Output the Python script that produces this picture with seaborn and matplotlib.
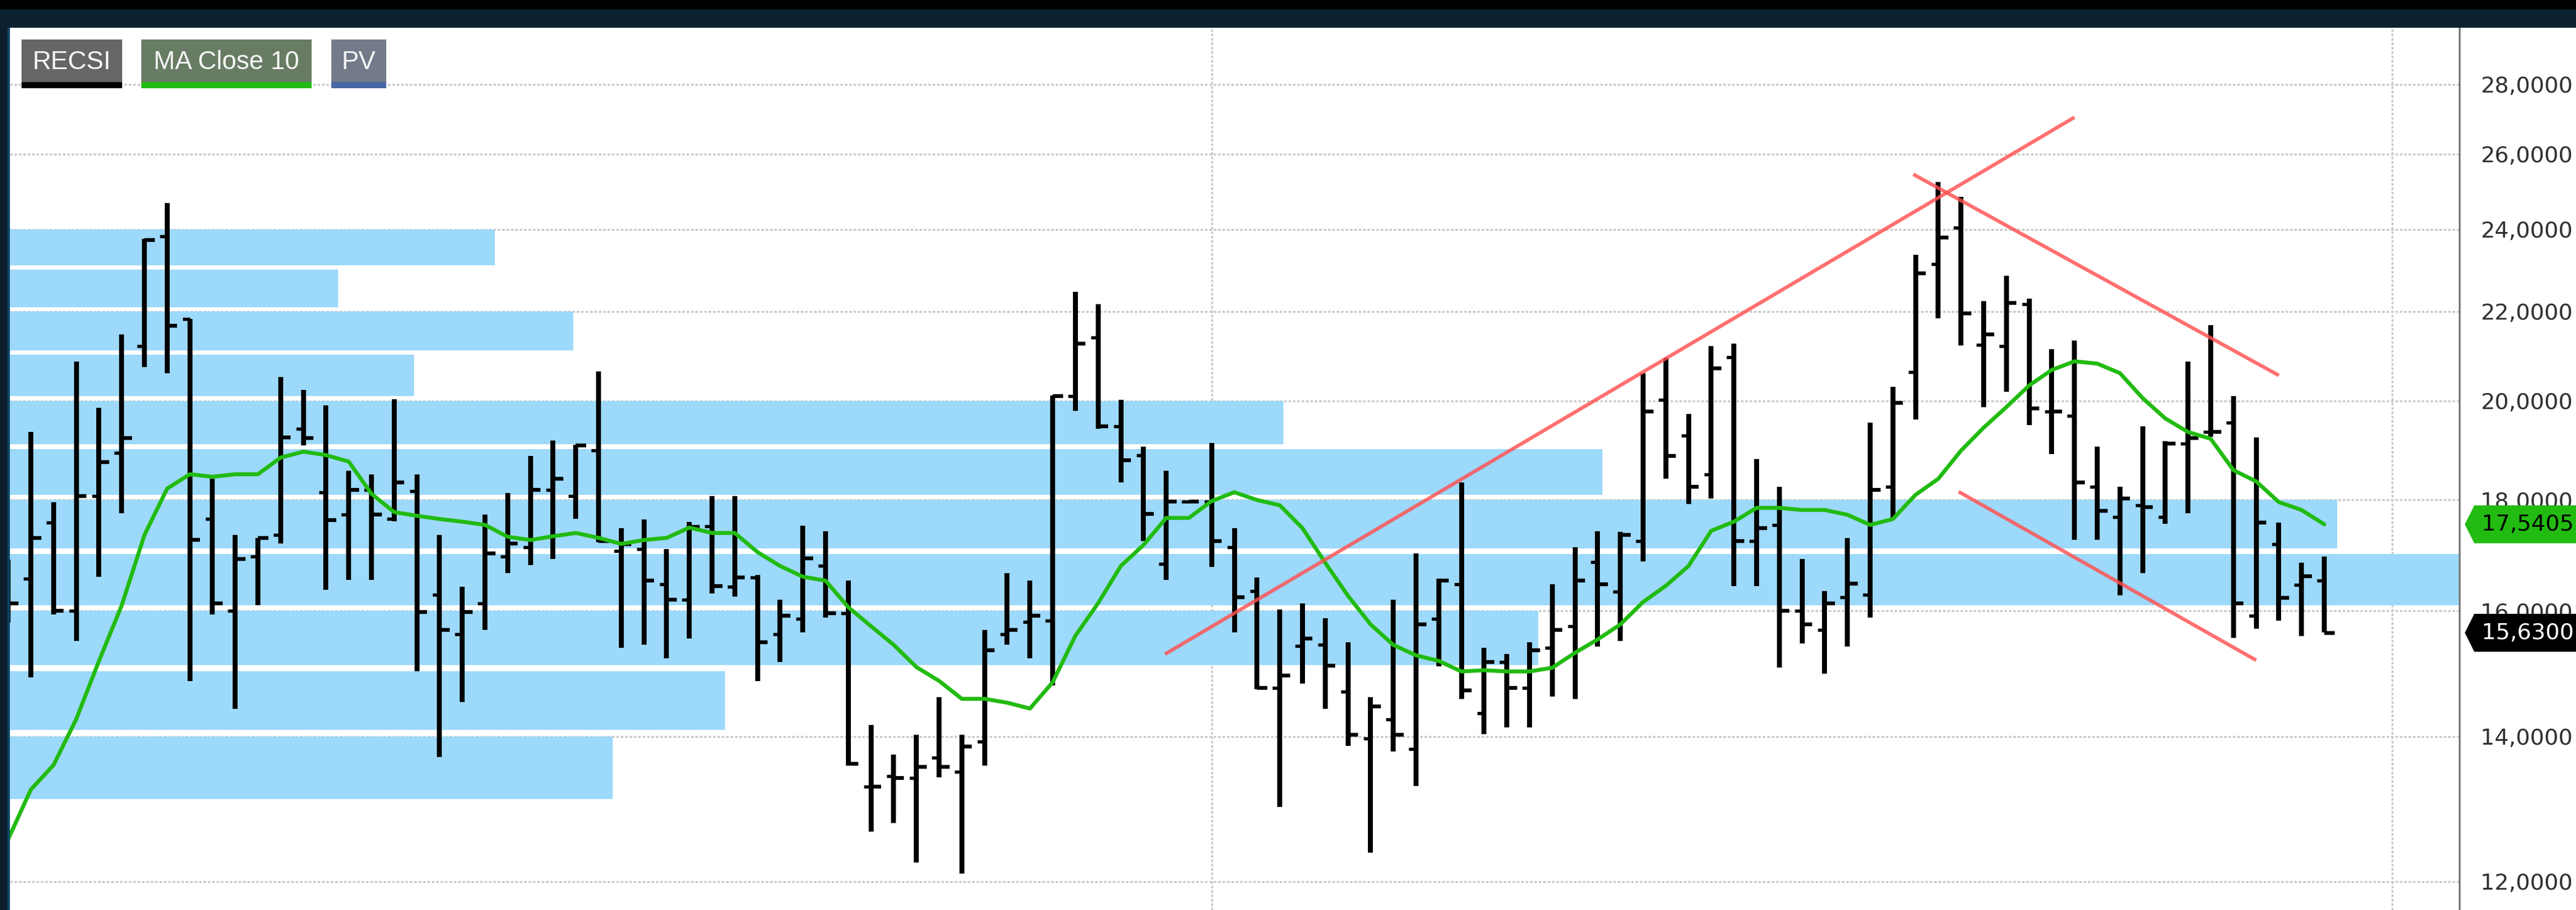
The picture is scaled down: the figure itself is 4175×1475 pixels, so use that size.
import numpy as np
import matplotlib
matplotlib.use("Agg")
import matplotlib.pyplot as plt
from matplotlib.patches import Rectangle
from matplotlib.path import Path
from matplotlib.ticker import FixedLocator, FuncFormatter, NullLocator, NullFormatter
import seaborn as sns

# weekly OHLC bars (bar 0 sits mostly behind the left frame)
opens = [16.40, 16.56, 17.57, 16.00, 18.08, 18.92, 21.20, 23.82, 21.82, 17.64,
         16.00, 16.95, 17.34, 19.42, 18.15, 17.72, 18.19, 17.64, 18.17, 16.28,
         15.61, 16.13, 16.95, 17.12, 18.20, 18.08, 18.97, 17.05, 17.08, 16.46,
         16.19, 17.51, 16.41, 16.58, 15.61, 15.86, 16.79, 15.96, 13.27, 13.42,
         13.39, 13.69, 13.48, 13.92, 15.61, 15.81, 15.83, 20.10, 21.39, 19.47,
         18.88, 16.82, 17.97, 17.97, 17.12, 16.34, 14.74, 15.41, 15.43, 14.68,
         13.97, 14.26, 13.81, 15.86, 16.46, 14.35, 15.15, 14.74, 15.38, 15.74,
         16.85, 16.33, 17.23, 20.03, 19.28, 18.50, 20.95, 17.23, 17.53, 16.00,
         15.68, 16.23, 16.28, 18.26, 20.63, 23.13, 24.04, 21.23, 21.20, 22.17,
         19.77, 19.68, 18.25, 17.68, 17.90, 17.68, 19.11, 19.35, 19.54, 15.92,
         17.18, 16.45, 16.52]
highs = [16.90, 19.35, 17.96, 20.86, 19.85, 21.47, 23.77, 24.68, 21.82, 18.41,
         17.35, 17.29, 20.51, 20.24, 19.91, 18.57, 18.50, 20.04, 18.50, 17.35,
         16.41, 17.72, 18.14, 18.87, 19.18, 19.09, 20.64, 17.47, 17.63, 17.08,
         17.59, 18.08, 18.08, 16.62, 16.19, 17.52, 17.41, 16.52, 14.17, 13.73,
         14.02, 14.60, 14.02, 15.68, 16.65, 16.52, 20.12, 22.46, 22.17, 20.03,
         19.05, 18.57, 17.97, 19.13, 17.47, 16.58, 16.02, 16.13, 15.87, 15.47,
         14.60, 16.19, 17.01, 16.56, 18.34, 15.38, 15.28, 15.47, 16.46, 17.12,
         17.41, 17.40, 20.60, 20.94, 19.73, 21.20, 21.26, 18.80, 18.26, 16.91,
         16.34, 17.29, 19.54, 20.30, 23.36, 25.25, 24.84, 22.24, 22.84, 22.30,
         21.13, 21.32, 19.05, 18.26, 19.47, 19.16, 20.86, 21.68, 20.10, 19.24,
         17.57, 16.84, 16.95]
lows = [15.80, 14.91, 15.94, 15.49, 16.59, 17.75, 20.73, 20.60, 14.85, 15.94,
        14.42, 16.09, 17.19, 19.07, 16.36, 16.53, 16.53, 17.60, 15.00, 13.70,
        14.52, 15.68, 16.65, 16.80, 16.91, 17.64, 17.21, 15.38, 15.43, 15.21,
        15.53, 16.30, 16.24, 14.85, 15.15, 15.64, 15.89, 13.57, 12.65, 12.77,
        12.24, 13.40, 12.10, 13.57, 15.43, 15.21, 14.78, 19.79, 19.42, 18.34,
        17.23, 16.53, 17.97, 16.76, 15.64, 14.72, 12.99, 14.81, 14.42, 13.86,
        12.37, 13.78, 13.28, 15.08, 14.57, 14.03, 14.13, 14.13, 14.61, 14.57,
        15.40, 15.49, 16.86, 18.41, 17.92, 18.03, 16.43, 16.43, 15.06, 15.45,
        14.96, 15.40, 15.89, 17.64, 19.61, 21.84, 21.21, 19.87, 20.19, 19.49,
        18.90, 17.25, 17.25, 16.26, 16.65, 17.55, 17.75, 19.25, 15.55, 15.70,
        15.83, 15.58, 15.64]
closes = [16.13, 17.29, 16.00, 18.08, 18.74, 19.23, 23.73, 21.67, 17.25, 16.13,
          16.91, 17.29, 19.24, 19.23, 17.62, 18.19, 17.72, 18.34, 15.98, 15.68,
          15.98, 17.01, 17.19, 18.20, 18.41, 19.07, 17.23, 17.18, 16.52, 16.19,
          17.49, 16.43, 16.58, 15.47, 15.92, 16.92, 15.96, 13.60, 13.27, 13.39,
          13.55, 13.55, 13.85, 15.34, 15.68, 15.92, 20.10, 21.26, 19.47, 18.78,
          17.74, 17.97, 17.97, 17.23, 16.23, 14.74, 14.94, 15.53, 15.09, 14.02,
          14.45, 14.02, 15.77, 16.52, 14.70, 15.15, 14.74, 15.34, 15.68, 16.52,
          16.46, 17.35, 19.77, 18.86, 18.25, 20.70, 17.23, 17.47, 16.00, 15.77,
          16.13, 16.47, 18.20, 19.96, 22.90, 23.79, 21.95, 21.47, 22.19, 19.84,
          19.77, 18.34, 17.79, 18.03, 17.87, 19.11, 19.23, 19.35, 16.13, 17.57,
          16.22, 16.60, 15.63]
ma_close_10 = [12.55, 13.23, 13.58, 14.26, 15.17, 16.09, 17.34, 18.22, 18.50, 18.45,
               18.50, 18.50, 18.83, 18.95, 18.88, 18.75, 18.12, 17.77, 17.70, 17.64,
               17.59, 17.53, 17.31, 17.25, 17.32, 17.38, 17.29, 17.18, 17.25, 17.29,
               17.48, 17.38, 17.38, 17.03, 16.78, 16.59, 16.52, 16.06, 15.74, 15.43,
               15.07, 14.85, 14.57, 14.57, 14.51, 14.42, 14.83, 15.58, 16.13, 16.78,
               17.16, 17.66, 17.66, 17.98, 18.15, 18.00, 17.90, 17.47, 16.84, 16.26,
               15.77, 15.43, 15.26, 15.17, 15.00, 15.02, 15.00, 15.00, 15.06, 15.30,
               15.52, 15.77, 16.15, 16.43, 16.78, 17.42, 17.59, 17.85, 17.85, 17.81,
               17.81, 17.72, 17.53, 17.64, 18.10, 18.41, 18.97, 19.44, 19.87, 20.33,
               20.67, 20.86, 20.81, 20.60, 20.06, 19.63, 19.35, 19.21, 18.58, 18.36,
               17.96, 17.81, 17.5405]

# volume profile: lower edge of each 1-point price bin and relative volume
pv_levels = [13, 14, 15, 16, 17, 18, 19, 20, 21, 22, 23]
pv_volume = [24.6, 29.2, 62.4, 100.0, 95.0, 65.0, 52.0, 16.5, 23.0, 13.4, 19.8]

# hand-drawn trend lines as (bar index, price) end points
trend_lines = [((50.95, 15.28), (91.0, 27.04)),
               ((83.9, 25.45), (100.0, 20.55)),
               ((85.9, 18.16), (99.0, 15.18))]

price_ticks = [12, 14, 16, 18, 20, 22, 24, 26, 28]
year_marks = [53, 105]
legend_labels = ["RECSI", "MA Close 10", "PV"]
last_ma = ma_close_10[-1]
last_close = closes[-1]

W, H = 4175, 1475
NAVY = "#0c2230"


def fmt_price(v, _=None):
    return f"{v:.4f}".replace(".", ",")


def tag_shape(x0, y0, width, height, mutation_size):
    # price tag: arrow tip on the left, body running off the right edge
    pad = 0.38 * mutation_size
    left = x0 - 0.33 * mutation_size
    bottom, top = y0 - pad, y0 + height + pad
    right = x0 + width + 4 * mutation_size
    tip = left - 0.25 * (top - bottom)
    mid = (bottom + top) / 2
    verts = [(tip, mid), (left, top), (right, top), (right, bottom), (left, bottom), (tip, mid)]
    return Path(verts, closed=True)


def fig_box(fig, x0, y0, x1, y1, color):
    fig.add_artist(Rectangle((x0 / W, 1 - y1 / H), (x1 - x0) / W, (y1 - y0) / H,
                             transform=fig.transFigure, facecolor=color,
                             edgecolor="none", zorder=5))


sns.set_style("white")
plt.rcParams["font.family"] = ["DejaVu Sans"]

fig = plt.figure(figsize=(W / 100, H / 100), dpi=100, facecolor="white")
ax = fig.add_axes([16 / W, 0, (3986 - 16) / W, (H - 45) / H])
ax.set_facecolor("white")

idx = np.arange(len(closes))

# volume profile bars, anchored to the left edge of the plot
ax.barh(np.array(pv_levels) + 0.1, np.array(pv_volume) / max(pv_volume),
        height=0.9, left=0, align="edge", color="#9dd9fb", linewidth=0,
        transform=ax.get_yaxis_transform(), zorder=1)

# OHLC bars
ax.vlines(idx, lows, highs, colors="black", linewidth=5.8, zorder=4)
ax.hlines(opens, idx - 0.32, idx, colors="black", linewidth=3.8, zorder=4)
ax.hlines(closes, idx, idx + 0.45, colors="black", linewidth=4.5, zorder=4)

# moving average
sns.lineplot(x=idx, y=ma_close_10, ax=ax, color="#22bb11", linewidth=4.6,
             errorbar=None, zorder=5)

# trend lines
for (x0, p0), (x1, p1) in trend_lines:
    ax.plot([x0, x1], [p0, p1], color="#ff5050", alpha=0.82, linewidth=4.2,
            solid_capstyle="butt", zorder=6)

ax.set_yscale("log")
ax.set_ylim(11.64, 29.74)
ax.set_xlim(0.076, 107.95)
ax.set_xlabel("")
ax.set_ylabel("")

ax.yaxis.set_major_locator(FixedLocator(price_ticks))
ax.yaxis.set_major_formatter(FuncFormatter(fmt_price))
ax.yaxis.set_minor_locator(NullLocator())
ax.yaxis.set_minor_formatter(NullFormatter())
ax.set_xticks(year_marks)
ax.tick_params(axis="x", length=0, labelbottom=False)
ax.tick_params(axis="y", length=0, pad=24.5, labelsize=26, labelcolor="#303030",
               left=False, labelleft=False, right=True, labelright=True)

ax.set_axisbelow(True)
ax.grid(True, which="major", color="#c8c8c8", linewidth=2.2,
        linestyle=(0, (1.33, 1.0)))

for side in ["left", "top", "bottom"]:
    ax.spines[side].set_visible(False)
ax.spines["right"].set_color("#7b7b7b")
ax.spines["right"].set_linewidth(2.2)

# last value tags on the price scale
ax.annotate(fmt_price(last_ma), xy=(1, last_ma), xycoords=("axes fraction", "data"),
            xytext=(26, 0), textcoords="offset points", ha="left", va="center",
            fontsize=26, color="black", annotation_clip=False, zorder=10,
            bbox=dict(boxstyle=tag_shape, facecolor="#22bb11", edgecolor="none"))
ax.annotate(fmt_price(last_close), xy=(1, last_close), xycoords=("axes fraction", "data"),
            xytext=(26, 0), textcoords="offset points", ha="left", va="center",
            fontsize=26, color="white", annotation_clip=False, zorder=10,
            bbox=dict(boxstyle=tag_shape, facecolor="black", edgecolor="none"))

# window frame: top bar and left edge
fig_box(fig, 0, 0, W, 45, NAVY)
fig_box(fig, 0, 0, W, 15, "black")
fig_box(fig, 0, 45, 16, H, "#0b1e2a")
fig_box(fig, 12, 45, 16, H, "#0e4565")

# legend chips in the top-left corner
chips = [(35, 198, "#666666", "black"),
         (229, 505, "#687c64", "#22bb11"),
         (537, 626, "#737a8a", "#4767a5")]
for label, (x0, x1, face, under) in zip(legend_labels, chips):
    fig_box(fig, x0, 64, x1, 133, face)
    fig_box(fig, x0, 133, x1, 143, under)
    fig.text((x0 + x1) / 2 / W, 1 - 101 / H, label, ha="center", va="center",
             fontsize=30, color="#f5f5f5",
             family=["Liberation Sans", "DejaVu Sans"], zorder=6)

fig.savefig("out.png", dpi=100, facecolor="white")
